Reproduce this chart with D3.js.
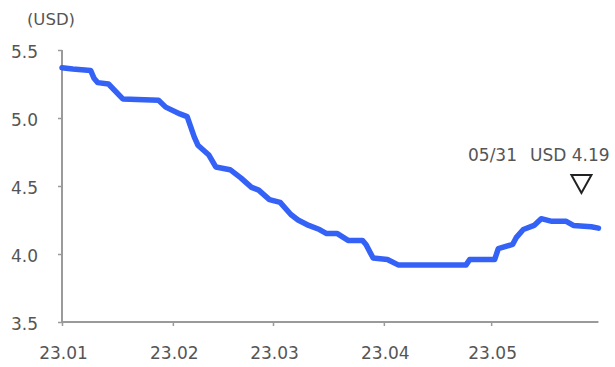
<!DOCTYPE html>
<html>
<head>
<meta charset="utf-8">
<script src="https://cdn.jsdelivr.net/npm/d3@7"></script>
<style>
  html, body { margin: 0; padding: 0; background: #fff; }
  svg { display: block; }
  text { font-family: "DejaVu Sans", sans-serif; fill: #555; }
</style>
</head>
<body>
<svg id="chart" width="615" height="367"></svg>
<script>
// Daily price (USD), Jan–May 2023
const dates = [
  "2023-01-01","2023-01-04","2023-01-09","2023-01-10","2023-01-11","2023-01-14",
  "2023-01-18","2023-01-28","2023-01-30","2023-02-03","2023-02-05","2023-02-07",
  "2023-02-08","2023-02-11","2023-02-13","2023-02-17","2023-02-20","2023-02-23",
  "2023-02-25","2023-02-28","2023-03-03","2023-03-06","2023-03-08","2023-03-11",
  "2023-03-14","2023-03-16","2023-03-19","2023-03-22","2023-03-26","2023-03-27",
  "2023-03-29","2023-04-02","2023-04-05","2023-04-24","2023-04-25","2023-05-02",
  "2023-05-03","2023-05-07","2023-05-08","2023-05-10","2023-05-13","2023-05-15",
  "2023-05-18","2023-05-22","2023-05-24","2023-05-29","2023-05-31"
];
const prices = [
  5.37, 5.36, 5.35, 5.29, 5.26, 5.25,
  5.14, 5.13, 5.08, 5.03, 5.01, 4.86,
  4.80, 4.73, 4.64, 4.62, 4.56, 4.49,
  4.47, 4.40, 4.38, 4.29, 4.25, 4.21,
  4.18, 4.15, 4.15, 4.10, 4.10, 4.07,
  3.97, 3.96, 3.92, 3.92, 3.96, 3.96,
  4.04, 4.07, 4.12, 4.18, 4.21, 4.26,
  4.24, 4.24, 4.21, 4.20, 4.19
];
const yTicks = [3.5, 4.0, 4.5, 5.0, 5.5];
const xTickDates = ["2023-01-01","2023-02-01","2023-03-01","2023-04-01","2023-05-01"];
const xTickLabels = ["23.01","23.02","23.03","23.04","23.05"];
const unitLabel = "(USD)";
const noteDate = "05/31";
const noteValue = "USD 4.19";

const parse = d3.timeParse("%Y-%m-%d");
const data = dates.map((d, i) => ({ date: parse(d), value: prices[i] }));

const svg = d3.select("#chart");

const x = d3.scaleTime()
  .domain([parse("2023-01-01"), parse("2023-06-01")])
  .range([62, 602]);
const y = d3.scaleLinear()
  .domain([3.5, 5.5])
  .range([322, 50]);

const axisColor = "#9a9a9a";
const lastDate = data[data.length - 1].date;

// Y axis
const yAxis = svg.append("g")
  .attr("transform", `translate(${x.range()[0]},0)`)
  .call(d3.axisLeft(y).tickValues(yTicks).tickSize(4).tickFormat(""));
yAxis.select(".domain").attr("d", `M0,${y(3.5)}V${y(5.5)}`)
  .attr("stroke", axisColor).attr("stroke-width", 2);
yAxis.selectAll(".tick line").attr("stroke", axisColor).attr("stroke-width", 1.5);

svg.append("g").selectAll("text")
  .data(yTicks)
  .join("text")
  .attr("x", 38)
  .attr("y", d => y(d) + 7.5)
  .attr("text-anchor", "end")
  .attr("font-size", 17)
  .text(d3.format(".1f"));

// X axis
const xAxis = svg.append("g")
  .attr("transform", `translate(0,${y(3.5)})`)
  .call(d3.axisBottom(x).tickValues(xTickDates.map(parse)).tickSize(4).tickFormat(""));
xAxis.select(".domain").attr("d", `M${x.range()[0]},0H${x(lastDate)}`)
  .attr("stroke", axisColor).attr("stroke-width", 2);
xAxis.selectAll(".tick line").attr("stroke", axisColor).attr("stroke-width", 1.5);

svg.append("g").selectAll("text")
  .data(xTickDates)
  .join("text")
  .attr("x", d => x(parse(d)) + 1.5)
  .attr("y", 359)
  .attr("text-anchor", "middle")
  .attr("font-size", 17)
  .text((d, i) => xTickLabels[i]);

// Unit label
svg.append("text")
  .attr("x", 51)
  .attr("y", 25)
  .attr("text-anchor", "middle")
  .attr("font-size", 16.5)
  .text(unitLabel);

// Price line
const line = d3.line()
  .x(d => x(d.date))
  .y(d => y(d.value));

svg.append("path")
  .datum(data)
  .attr("fill", "none")
  .attr("stroke", "#3461f6")
  .attr("stroke-width", 5.5)
  .attr("stroke-linejoin", "round")
  .attr("stroke-linecap", "round")
  .attr("d", line);

// Latest value note with marker
svg.append("text")
  .attr("x", 468)
  .attr("y", 161)
  .attr("font-size", 17)
  .text(noteDate);
svg.append("text")
  .attr("x", 530)
  .attr("y", 161)
  .attr("font-size", 17)
  .text(noteValue);

const mx = x(lastDate) - 17;
svg.append("path")
  .attr("d", `M${mx - 10},175L${mx + 10},175L${mx},193Z`)
  .attr("fill", "#fff")
  .attr("stroke", "#222")
  .attr("stroke-width", 2)
  .attr("stroke-linejoin", "miter");
</script>
</body>
</html>
